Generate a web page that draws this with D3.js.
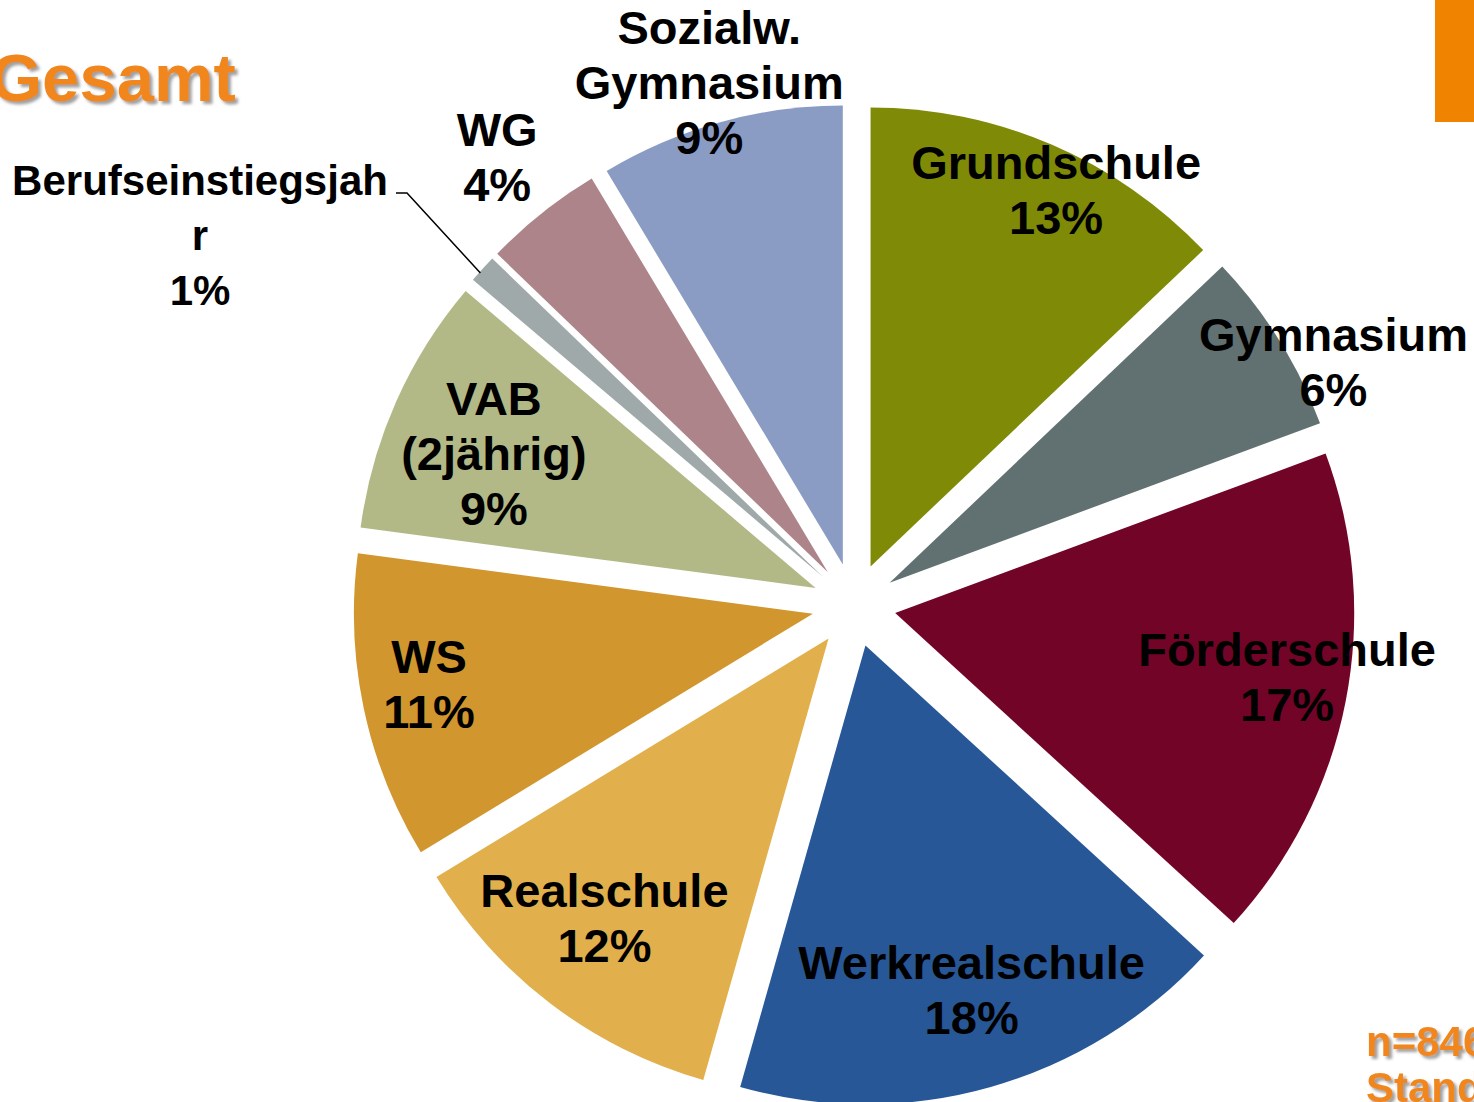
<!DOCTYPE html>
<html>
<head>
<meta charset="utf-8">
<script src="https://cdn.jsdelivr.net/npm/d3@7"></script>
<style>
  html, body { margin: 0; padding: 0; background: #fff; overflow: hidden; }
  svg { display: block; font-family: "Liberation Sans", Arial, sans-serif; }
</style>
</head>
<body>
<div id="chart"></div>
<script>
// data (percent of n=846), clockwise from 12 o'clock
const categories = ["Grundschule", "Gymnasium", "Förderschule", "Werkrealschule", "Realschule",
                    "WS", "VAB (2jährig)", "Berufseinstiegsjahr", "WG", "Sozialw. Gymnasium"];
const labelLines = [["Grundschule"], ["Gymnasium"], ["Förderschule"], ["Werkrealschule"], ["Realschule"],
                    ["WS"], ["VAB", "(2jährig)"], ["Berufseinstiegsjah", "r"], ["WG"], ["Sozialw.", "Gymnasium"]];
const values = [12.9, 6.45, 17.45, 17.6, 11.9, 10.8, 9.1, 1.0, 4.2, 8.6];
const colors = ["#7f8a07", "#617171", "#720428", "#285797", "#e1b04d",
                "#d1962e", "#b2b986", "#a0a9a9", "#ad848a", "#8a9bc4"];

const width = 1474,
    height = 1102,
    cx = 854, cy = 605,
    radius = 459,
    explode = 42;

// label placement: radius factor and angle nudge (deg) per slice
const labelRadius = [0.915, 1.08, 0.865, 0.785, 0.78, 0.85, 0.76, 0, 1.157, 1.09];
const labelNudge = [3, 5.5, -1.8, -1.3, 1.5, 1.6, -1.2, 0, 0, 0];

const svg = d3.select("#chart")
    .append("svg")
    .attr("width", width)
    .attr("height", height);

const defs = svg.append("defs");
defs.append("filter")
    .attr("id", "shadow")
    .attr("x", "-10%").attr("y", "-10%").attr("width", "130%").attr("height", "140%")
    .append("feDropShadow")
    .attr("dx", 3).attr("dy", 3).attr("stdDeviation", 1.5)
    .attr("flood-color", "#777").attr("flood-opacity", 0.7);

const arcs = d3.pie().sort(null).value(d => d)(values);
const arc = d3.arc().innerRadius(0).outerRadius(radius);

const mid = d => (d.startAngle + d.endAngle) / 2;
const shift = d => [explode * Math.sin(mid(d)), -explode * Math.cos(mid(d))];

const g = svg.append("g").attr("transform", `translate(${cx},${cy})`);

g.selectAll("path")
    .data(arcs)
    .join("path")
    .attr("transform", d => `translate(${shift(d)})`)
    .attr("fill", (d, i) => colors[i])
    .attr("d", arc);

// labels
const fontSize = 47, lineH = 55;
arcs.forEach((d, i) => {
    const [sx, sy] = shift(d);
    const lines = labelLines[i].concat([Math.round(values[i]) + "%"]);
    let x, y, fs = fontSize;
    if (i === 7) {
        // Berufseinstiegsjahr: placed outside with leader line
        fs = 42;
        const a = mid(d);
        const px = sx + radius * Math.sin(a), py = sy - radius * Math.cos(a);
        x = -654; y = -370;
        g.append("polyline")
            .attr("points", [[px - 2, py + 4], [-447, -412], [-458, -412]].join(" "))
            .attr("fill", "none")
            .attr("stroke", "#000")
            .attr("stroke-width", 1.5);
    } else {
        const a = mid(d) + labelNudge[i] * Math.PI / 180;
        const r = radius * labelRadius[i];
        x = sx + r * Math.sin(a);
        y = sy - r * Math.cos(a);
    }
    const t = g.append("text")
        .attr("text-anchor", "middle")
        .attr("font-weight", "bold")
        .attr("font-size", fs)
        .attr("fill", "#000");
    const first = y - (lines.length - 1) * lineH / 2 + fs * 0.716 / 2;
    t.selectAll("tspan")
        .data(lines)
        .join("tspan")
        .attr("x", x)
        .attr("y", (s, j) => first + j * lineH)
        .text(s => s);
});

// title and decorations
svg.append("text")
    .attr("x", -10)
    .attr("y", 101)
    .attr("font-size", 67)
    .attr("font-weight", "bold")
    .attr("fill", "#f0861c")
    .attr("filter", "url(#shadow)")
    .text("Gesamt");

svg.append("rect")
    .attr("x", 1435).attr("y", 0)
    .attr("width", 39).attr("height", 122)
    .attr("fill", "#f08300");

svg.append("text")
    .attr("font-size", 42)
    .attr("font-weight", "bold")
    .attr("fill", "#f0861c")
    .attr("filter", "url(#shadow)")
    .selectAll("tspan")
    .data(["n=846", "Stand"])
    .join("tspan")
    .attr("x", 1366)
    .attr("y", (d, i) => 1056 + i * 46)
    .text(d => d);
</script>
</body>
</html>
